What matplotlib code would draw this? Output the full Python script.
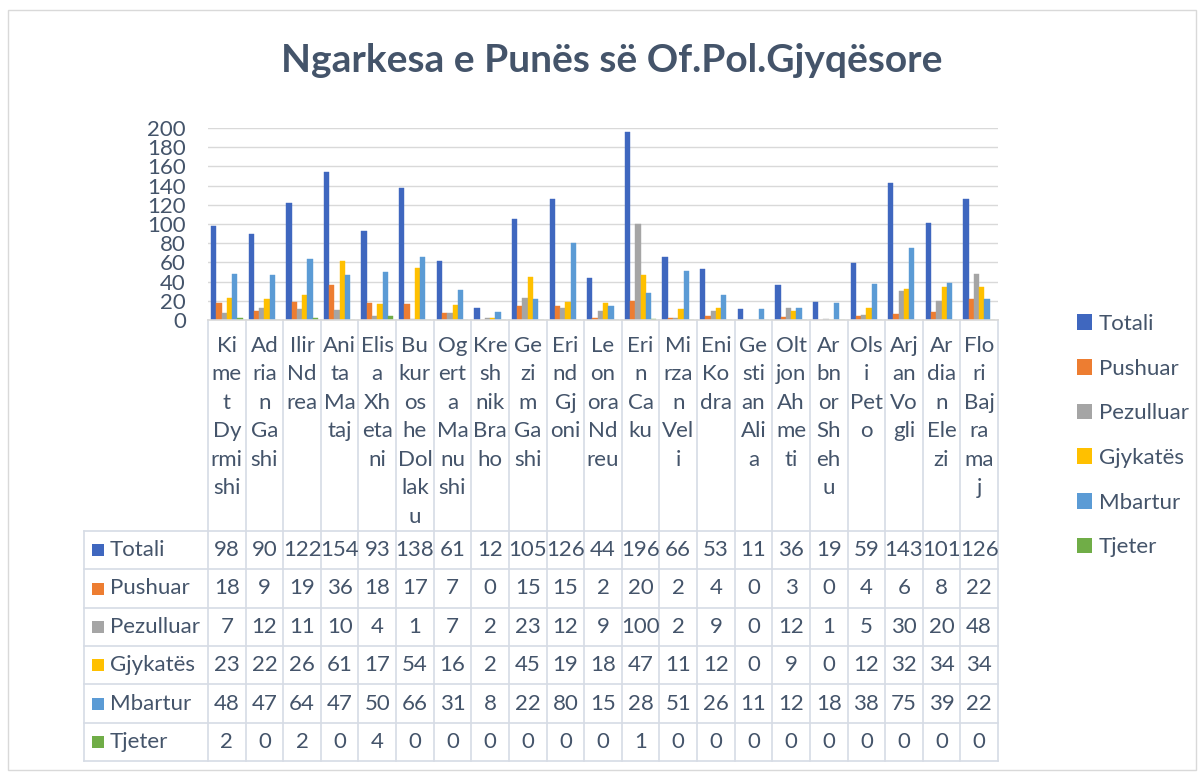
import matplotlib
matplotlib.use("Agg")
import matplotlib.pyplot as plt
import matplotlib.transforms as mtransforms
from matplotlib.patches import Rectangle
import numpy as np

plt.rcParams['font.family'] = ['Lato', 'DejaVu Sans']

title = "Ngarkesa e Punës së Of.Pol.Gjyqësore"

# category labels as wrapped in the reference
categories = [
    ["Ki", "me", "t", "Dy", "rmi", "shi"],
    ["Ad", "ria", "n", "Ga", "shi"],
    ["Ilir", "Nd", "rea"],
    ["Ani", "ta", "Ma", "taj"],
    ["Elis", "a", "Xh", "eta", "ni"],
    ["Bu", "kur", "os", "he", "Dol", "lak", "u"],
    ["Og", "ert", "a", "Ma", "nu", "shi"],
    ["Kre", "sh", "nik", "Bra", "ho"],
    ["Ge", "zi", "m", "Ga", "shi"],
    ["Eri", "nd", "Gj", "oni"],
    ["Le", "on", "ora", "Nd", "reu"],
    ["Eri", "n", "Ca", "ku"],
    ["Mi", "rza", "n", "Vel", "i"],
    ["Eni", "Ko", "dra"],
    ["Ge", "sti", "an", "Ali", "a"],
    ["Olt", "jon", "Ah", "me", "ti"],
    ["Ar", "bn", "or", "Sh", "eh", "u"],
    ["Ols", "i", "Pet", "o"],
    ["Arj", "an", "Vo", "gli"],
    ["Ar", "dia", "n", "Ele", "zi"],
    ["Flo", "ri", "Baj", "ra", "ma", "j"],
]

series_names = ["Totali", "Pushuar", "Pezulluar", "Gjykatës", "Mbartur", "Tjeter"]
totali    = [98, 90, 122, 154, 93, 138, 61, 12, 105, 126, 44, 196, 66, 53, 11, 36, 19, 59, 143, 101, 126]
pushuar   = [18, 9, 19, 36, 18, 17, 7, 0, 15, 15, 2, 20, 2, 4, 0, 3, 0, 4, 6, 8, 22]
pezulluar = [7, 12, 11, 10, 4, 1, 7, 2, 23, 12, 9, 100, 2, 9, 0, 12, 1, 5, 30, 20, 48]
gjykates  = [23, 22, 26, 61, 17, 54, 16, 2, 45, 19, 18, 47, 11, 12, 0, 9, 0, 12, 32, 34, 34]
mbartur   = [48, 47, 64, 47, 50, 66, 31, 8, 22, 80, 15, 28, 51, 26, 11, 12, 18, 38, 75, 39, 22]
tjeter    = [2, 0, 2, 0, 4, 0, 0, 0, 0, 0, 0, 1, 0, 0, 0, 0, 0, 0, 0, 0, 0]
all_series = [totali, pushuar, pezulluar, gjykates, mbartur, tjeter]

colors = ["#3F67BF", "#ED7D31", "#A5A5A5", "#FFC000", "#5B9BD5", "#70AD47"]
yticks = [0, 20, 40, 60, 80, 100, 120, 140, 160, 180, 200]

TXT = "#44546A"
GRID = "#D9D9D9"
TBL = "#D6DCE5"
FS = 16

W, H = 1200, 773
fig = plt.figure(figsize=(12, 7.73), dpi=100)

def fx(px):
    return px / W

def fy(py):
    return 1 - py / H

# outer border
fig.patches.append(Rectangle((fx(8), fy(770)), fx(1196) - fx(8), fy(10) - fy(770),
                             transform=fig.transFigure, fill=False, edgecolor=GRID, lw=1))

# title
fig.text(fx(612), fy(61), title, ha="center", va="center", fontsize=28,
         fontweight="bold", color=TXT)

# main axes
L, R, T, B = 208, 998, 128, 320
ax = fig.add_axes([fx(L), fy(B), fx(R) - fx(L), fy(T) - fy(B)])
n = len(totali)
x = np.arange(n)
bw = 0.14
for i, (vals, c, name) in enumerate(zip(all_series, colors, series_names)):
    ax.bar(x + (i - 2.5) * bw, vals, width=bw, color=c, label=name, zorder=3,
           edgecolor=c, linewidth=0.3)
ax.set_xlim(-0.5, n - 0.5)
ax.set_ylim(0, 200)
ax.set_yticks(yticks)
ax.set_xticks([])
for s in ax.spines.values():
    s.set_visible(False)
ax.yaxis.grid(True, color=GRID, lw=1, zorder=0)
ax.tick_params(axis="y", length=0, pad=16, labelsize=FS, labelcolor=TXT)
ax.set_facecolor("none")

# table axes (pixel coordinates)
TL, TT, TB = 84, 320, 761
tax = fig.add_axes([fx(TL), fy(TB), fx(R) - fx(TL), fy(TT) - fy(TB)])
tax.set_xlim(TL, R)
tax.set_ylim(TB, TT)
tax.axis("off")
blend = mtransforms.blended_transform_factory(ax.transData, tax.transData)

row_top = 531
row_h = (TB - row_top) / 6.0

# vertical column lines
for k in range(n + 1):
    tax.plot([k - 0.5, k - 0.5], [TT, TB], color=TBL, lw=1.2, transform=blend, clip_on=False)
# left border of row-label column
tax.plot([TL, TL], [row_top, TB], color=TBL, lw=1.2, clip_on=False)
# horizontal row lines
for r in range(7):
    yy = row_top + r * row_h
    tax.plot([TL, R], [yy, yy], color=TBL, lw=1.2, clip_on=False)
# axis baseline
tax.plot([L, R], [TT, TT], color=GRID, lw=1.2, clip_on=False)

# category labels
for i, parts in enumerate(categories):
    tax.text(i, 336, "\n".join(parts), transform=blend, ha="center", va="top",
             fontsize=FS, color=TXT, linespacing=1.53)

# table content
for r, (vals, c, name) in enumerate(zip(all_series, colors, series_names)):
    yc = row_top + (r + 0.5) * row_h
    tax.add_patch(Rectangle((92, yc - 6), 12, 12, facecolor=c, edgecolor="none"))
    tax.text(110, yc, name, ha="left", va="center", fontsize=FS, color=TXT)
    for i, v in enumerate(vals):
        tax.text(i, yc, str(v), transform=blend, ha="center", va="center",
                 fontsize=FS, color=TXT)

# legend
handles = [Rectangle((0, 0), 1, 1, facecolor=c, edgecolor="none") for c in colors]
fig.legend(handles, series_names, loc="upper left",
           bbox_to_anchor=(fx(1068), fy(305)), frameon=False, fontsize=FS,
           handlelength=0.7, handleheight=0.7, handletextpad=0.3,
           labelspacing=1.11, labelcolor=TXT, borderaxespad=0)

fig.savefig("out.png", dpi=100)
